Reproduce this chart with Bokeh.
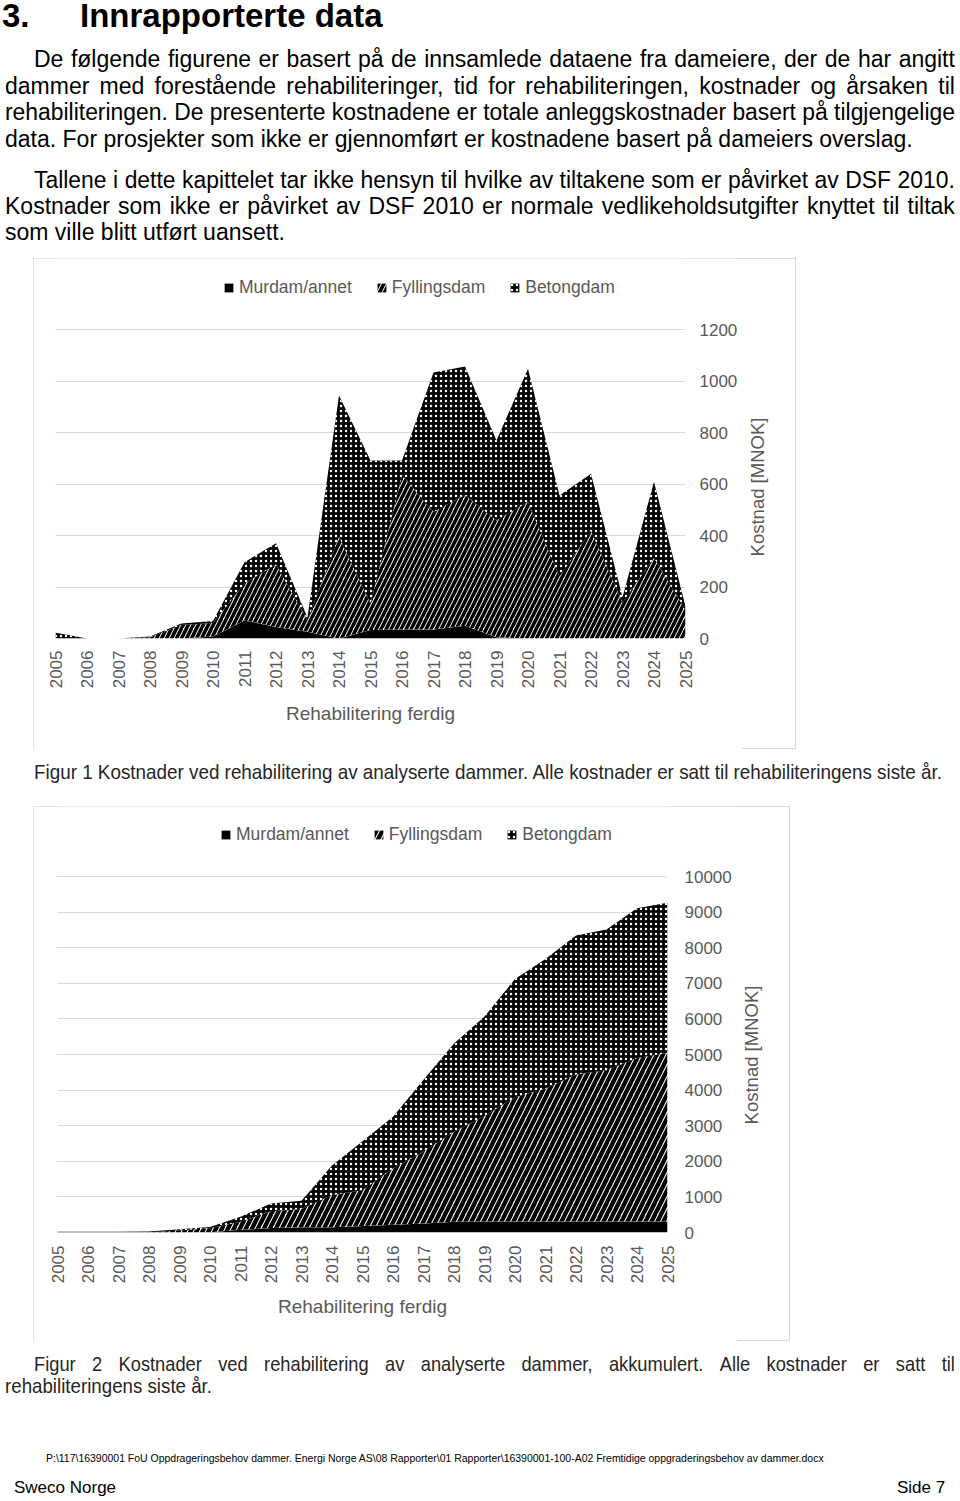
import math
import html
from bokeh.plotting import figure
from bokeh.models import Range1d, FixedTicker, Div, Spacer, ColumnDataSource
from bokeh.layouts import column, row
from bokeh.embed import file_html
from bokeh.resources import INLINE

# ---------------- data ----------------
years = [2005, 2006, 2007, 2008, 2009, 2010, 2011, 2012, 2013, 2014, 2015,
         2016, 2017, 2018, 2019, 2020, 2021, 2022, 2023, 2024, 2025]

# Figur 1: costs per year (MNOK)
murdam = [0, 0, 0, 0, 0, 8, 70, 45, 26, 0, 33, 35, 35, 50, 5, 0, 0, 0, 0, 0, 0]
fylling = [0, 0, 0, 5, 52, 52, 144, 242, 44, 395, 102, 600, 456, 507, 453, 530, 240, 418, 140, 313, 110]
betong = [22, 0, 0, 3, 6, 8, 82, 83, 12, 549, 556, 56, 542, 499, 311, 518, 315, 222, 20, 296, 14]

# Figur 2: accumulated costs (MNOK)
murdam_akk = [0, 0, 0, 0, 0, 8, 78, 123, 149, 150, 183, 218, 253, 303, 308, 308, 308, 308, 308, 308, 308]
fylling_akk = [0, 0, 0, 5, 57, 109, 222, 477, 511, 900, 1007, 1582, 2017, 2527, 2962, 3492, 3732, 4132, 4252, 4592, 4732]
betong_akk = [22, 22, 22, 25, 31, 39, 140, 215, 235, 830, 1370, 1450, 2020, 2480, 2800, 3320, 3640, 3900, 3950, 4210, 4220]

series_names = ["Murdam/annet", "Fyllingsdam", "Betongdam"]
y_ticks_1 = [0, 200, 400, 600, 800, 1000, 1200]
y_ticks_2 = [0, 1000, 2000, 3000, 4000, 5000, 6000, 7000, 8000, 9000, 10000]
x_title = "Rehabilitering ferdig"
y_title = "Kostnad [MNOK]"

FONT = "Liberation Sans"
CSS_FONT = "'Liberation Sans',Arial,sans-serif"
GREY = "#595959"
GRID = "#d9d9d9"
BOXLINE = "#d9d9d9"


def chart(src, fig_w, fig_h, left_b, right_b, bottom_b, top_tick_px, ticks,
          hscale, hweight, legend_xy, ylab_standoff, xlab_standoff, xtitle_standoff):
    frame_h = fig_h - bottom_b
    px_per_unit = (frame_h - top_tick_px) / (ticks[-1] - ticks[0])
    ymax = frame_h / px_per_unit   # frame reaches the top of the box, legend sits inside
    p = figure(width=fig_w, height=fig_h, x_range=Range1d(years[0], years[-1]),
               y_range=Range1d(0, ymax), y_axis_location="right",
               output_backend="svg", toolbar_location=None,
               min_border_left=left_b, min_border_right=right_b,
               min_border_top=0, min_border_bottom=bottom_b)
    p.outline_line_color = None
    p.background_fill_color = "white"
    p.border_fill_color = "white"
    p.styles = {"outline": f"1px solid {BOXLINE}", "outline-offset": "-1px"}

    p.varea_stack(stackers=["murdam", "fylling", "betong"], x="year", source=src,
                  fill_color=["black", "white", "black"],
                  hatch_pattern=[None, "/", "."],
                  hatch_color=["black", "black", "white"],
                  hatch_scale=[6, hscale, 5],
                  hatch_weight=[1, hweight, 1],
                  legend_label=series_names)

    p.xgrid.visible = False
    p.ygrid.ticker = FixedTicker(ticks=ticks)
    p.ygrid.grid_line_color = GRID
    p.ygrid.grid_line_width = 1

    ya = p.yaxis[0]
    ya.ticker = FixedTicker(ticks=ticks)
    ya.axis_line_color = None
    ya.major_tick_line_color = None
    ya.minor_tick_line_color = None
    ya.major_tick_out = 0
    ya.major_tick_in = 0
    ya.major_label_text_font = FONT
    ya.major_label_text_font_size = "17px"
    ya.major_label_text_color = GREY
    ya.major_label_standoff = ylab_standoff

    xa = p.xaxis[0]
    xa.ticker = FixedTicker(ticks=years)
    xa.axis_line_color = None
    xa.major_tick_line_color = None
    xa.minor_tick_line_color = None
    xa.major_tick_out = 0
    xa.major_tick_in = 0
    xa.major_label_orientation = math.pi / 2
    xa.major_label_text_font = FONT
    xa.major_label_text_font_size = "17px"
    xa.major_label_text_color = GREY
    xa.major_label_standoff = xlab_standoff
    xa.axis_label = x_title
    xa.axis_label_text_font = FONT
    xa.axis_label_text_font_size = "19px"
    xa.axis_label_text_font_style = "normal"
    xa.axis_label_text_color = GREY
    xa.axis_label_standoff = xtitle_standoff

    lg = p.legend[0]
    lg.location = legend_xy
    lg.orientation = "horizontal"
    lg.border_line_color = None
    lg.background_fill_alpha = 0
    lg.padding = 0
    lg.margin = 0
    lg.spacing = 24
    lg.glyph_width = 11
    lg.glyph_height = 11
    lg.label_height = 18
    lg.label_standoff = 5
    lg.label_text_font = FONT
    lg.label_text_font_size = "17.5px"
    lg.label_text_color = GREY
    return p


def y_title_div(w, h, cx, cy):
    # right-hand strip of the chart box holding the rotated y-axis title
    return Div(text=(f'<div style="position:relative;left:-1px;width:{w + 1}px;height:{h}px;'
                     f'box-sizing:border-box;background:white;border-top:1px solid {BOXLINE};'
                     f'border-right:1px solid {BOXLINE};border-bottom:1px solid {BOXLINE};">'
                     f'<div style="position:absolute;left:{cx + 1}px;top:{cy - 1}px;white-space:nowrap;'
                     f'transform:translate(-50%,-50%) rotate(-90deg);font-family:{CSS_FONT};'
                     f'font-size:18.5px;line-height:18.5px;color:{GREY};">{html.escape(y_title)}</div></div>'),
               width=w, height=h, margin=(0, 0, 0, 0))


src1 = ColumnDataSource(dict(year=years, murdam=murdam, fylling=fylling, betong=betong))
src2 = ColumnDataSource(dict(year=years, murdam=murdam_akk, fylling=fylling_akk, betong=betong_akk))

# chart 1: box 763x491 at page (33,258); frame x 22..652, 0-line at y 380, 1200-line at y 71
p1 = chart(src1, 710, 491, 22, 58, 111, 71, y_ticks_1, 10, 3.6, (168, 340), 14, 12, 12)
t1 = y_title_div(53, 491, 15, 229)
# chart 2: box 757x535 at page (33,806); frame x 24..634, 0-line at y 426, 10000-line at y 70
p2 = chart(src2, 705, 535, 24, 71, 109, 70, y_ticks_2, 12, 4.3, (163, 387), 17, 13, 10)
t2 = y_title_div(52, 535, 14, 249)

# ---------------- page text ----------------
W = {}
for ch, v in zip("abcdefghijklmnopqrstuvwxyz",
                 [556, 556, 500, 556, 556, 278, 556, 556, 222, 222, 500, 222, 833, 556, 556, 556, 556, 333, 500, 278, 556, 500, 722, 500, 500, 500]):
    W[ch] = v
for ch, v in zip("ABCDEFGHIJKLMNOPQRSTUVWXYZ",
                 [667, 667, 722, 722, 667, 611, 778, 722, 278, 500, 667, 556, 833, 722, 778, 667, 778, 722, 667, 611, 722, 667, 944, 667, 667, 611]):
    W[ch] = v
for ch in "0123456789":
    W[ch] = 556
W.update({" ": 278, ".": 278, ",": 278, ":": 278, ";": 278, "-": 333, "/": 278, "\\": 278,
          "[": 278, "]": 278, "(": 333, ")": 333, "å": 556, "ø": 611, "æ": 889})


def tw(s, fs):
    return sum(W.get(c, 556) for c in s) * fs / 1000.0


def line(text, left, base, fs, y0, right=None, justify=False, cond=1.0, color="#000000", weight="normal"):
    top = base - y0 - 0.8465 * fs
    x = left
    w = tw(text, fs)
    common = (f"position:absolute;left:{x:.1f}px;top:{top:.1f}px;font-size:{fs}px;"
              f"line-height:{fs}px;color:{color};font-weight:{weight};white-space:nowrap;"
              f"transform-origin:0 0;")
    if justify:
        target = right - left
        s = cond
        if w * s > target:
            s = target / w
        spans = "".join(f"<span>{html.escape(wd)}</span>" for wd in text.split(" "))
        return (f'<div style="{common}display:flex;justify-content:space-between;'
                f'width:{target / s:.1f}px;transform:scaleX({s:.4f});">{spans}</div>')
    s = (right - left) / w if right is not None else cond
    return f'<div style="{common}transform:scaleX({s:.4f});">{html.escape(text)}</div>'


def page_div(lines, w, h):
    inner = "".join(lines)
    return Div(text=(f'<div style="position:relative;width:{w}px;height:{h}px;'
                     f'font-family:{CSS_FONT};">{inner}</div>'),
               width=w, height=h, margin=(0, 0, 0, 0))


Y0 = 0
top_lines = [
    line("3.", 2, 27, 33, Y0, weight="bold"),
    line("Innrapporterte data", 80, 27, 33, Y0, weight="bold"),
    line("De følgende figurene er basert på de innsamlede dataene fra dameiere, der de har angitt", 34, 67, 23, Y0, 955, True),
    line("dammer med forestående rehabiliteringer, tid for rehabiliteringen, kostnader og årsaken til", 5, 94, 23, Y0, 955, True),
    line("rehabiliteringen. De presenterte kostnadene er totale anleggskostnader basert på tilgjengelige", 5, 120, 23, Y0, 955, True),
    line("data. For prosjekter som ikke er gjennomført er kostnadene basert på dameiers overslag.", 5, 147, 23, Y0),
    line("Tallene i dette kapittelet tar ikke hensyn til hvilke av tiltakene som er påvirket av DSF 2010.", 34, 188, 23, Y0, 955, True),
    line("Kostnader som ikke er påvirket av DSF 2010 er normale vedlikeholdsutgifter knyttet til tiltak", 5, 214, 23, Y0, 955, True),
    line("som ville blitt utført uansett.", 5, 240, 23, Y0),
]
top_div = page_div(top_lines, 960, 258)

Y1 = 749
cap1_div = page_div([
    line("Figur 1 Kostnader ved rehabilitering av analyserte dammer. Alle kostnader er satt til rehabiliteringens siste år.",
         34, 779, 21, Y1, 945, color="#262626"),
], 960, 57)

Y2 = 1341
path_text = r"P:\117\16390001 FoU Oppdrageringsbehov dammer. Energi Norge AS\08 Rapporter\01 Rapporter\16390001-100-A02 Fremtidige oppgraderingsbehov av dammer.docx"
bottom_div = page_div([
    line("Figur 2 Kostnader ved rehabilitering av analyserte dammer, akkumulert. Alle kostnader er satt til",
         34, 1371, 21, Y2, 955, True, cond=0.87, color="#262626"),
    line("rehabiliteringens siste år.", 5, 1393, 21, Y2, 213, color="#262626"),
    line(path_text, 46, 1462, 11, Y2, 826),
    line("Sweco Norge", 14, 1493, 17, Y2),
    line("Side 7", 897, 1493, 17, Y2),
], 960, 160)

layout = column(
    top_div,
    row(Spacer(width=33, height=491), p1, t1, spacing=0),
    cap1_div,
    row(Spacer(width=33, height=535), p2, t2, spacing=0),
    bottom_div,
    spacing=0,
)

open("out.html", "w").write(file_html(layout, INLINE))
